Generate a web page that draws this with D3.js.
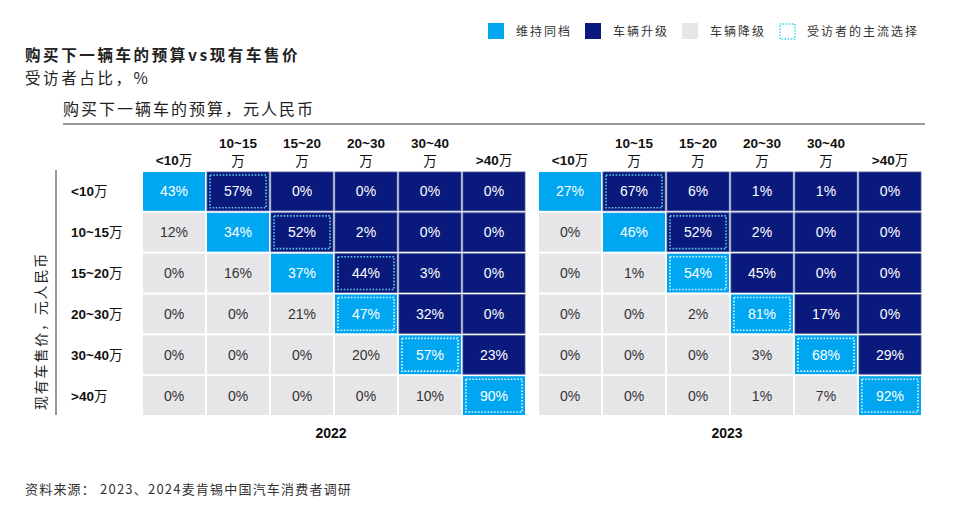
<!DOCTYPE html>
<html>
<head>
<meta charset="utf-8">
<script src="https://cdn.jsdelivr.net/npm/d3@7"></script>
<style>
  body { margin: 0; background: #fff; }
  text { font-family: "Liberation Sans", Arial, "Noto Sans CJK SC", sans-serif; }
  .cjk { font-family: "Noto Sans CJK SC", sans-serif; }
</style>
</head>
<body>
<svg id="chart" width="960" height="509"></svg>
<script>
// budget for next car (columns) vs price of current car (rows)
var budgetLabels = [["<10", "万"], ["10~15", "万"], ["15~20", "万"], ["20~30", "万"], ["30~40", "万"], [">40", "万"]];
var priceLabels = ["<10", "10~15", "15~20", "20~30", "30~40", ">40"];
var years = ["2022", "2023"];

var values2022 = [
  [43, 57, 0, 0, 0, 0],
  [12, 34, 52, 2, 0, 0],
  [0, 16, 37, 44, 3, 0],
  [0, 0, 21, 47, 32, 0],
  [0, 0, 0, 20, 57, 23],
  [0, 0, 0, 0, 10, 90]
];
var values2023 = [
  [27, 67, 6, 1, 1, 0],
  [0, 46, 52, 2, 0, 0],
  [0, 1, 54, 45, 0, 0],
  [0, 0, 2, 81, 17, 0],
  [0, 0, 0, 3, 68, 29],
  [0, 0, 0, 1, 7, 92]
];
// column index of the main choice in each row
var mainChoice2022 = [1, 2, 3, 3, 4, 5];
var mainChoice2023 = [1, 2, 2, 3, 4, 5];

var legendItems = ["维持同档", "车辆升级", "车辆降级", "受访者的主流选择"];

var colours = { same: "#00a7f0", up: "#0a1a7c", down: "#e6e6e8" };

var svg = d3.select("#chart");

// Titles
svg.append("text").attr("class", "cjk").attr("x", 25).attr("y", 61)
    .style("font-size", "15.5px").style("font-weight", "bold").style("letter-spacing", "2.6px")
    .attr("fill", "#222").text("购买下一辆车的预算vs现有车售价");
svg.append("text").attr("class", "cjk").attr("x", 25).attr("y", 84)
    .style("font-size", "15.5px").style("letter-spacing", "2.6px")
    .attr("fill", "#222").text("受访者占比，%");
svg.append("text").attr("class", "cjk").attr("x", 63).attr("y", 115)
    .style("font-size", "16px").style("letter-spacing", "2px")
    .attr("fill", "#222").text("购买下一辆车的预算，元人民币");
svg.append("line").attr("x1", 63).attr("x2", 925).attr("y1", 124).attr("y2", 124)
    .attr("stroke", "#777").attr("stroke-width", 1.5);

// Legend
var legendX = [488, 585, 682, 779];
var legendFill = [colours.same, colours.up, colours.down, "none"];
legendItems.forEach(function(name, i) {
  var g = svg.append("g").attr("transform", "translate(" + legendX[i] + ",23)");
  var r = g.append("rect").attr("width", 16).attr("height", 16).attr("fill", legendFill[i]);
  if (i == 3) {
    r.attr("x", 1).attr("y", 1).attr("width", 15).attr("height", 15)
     .attr("stroke", "#34d6e6").attr("stroke-width", 1.5).attr("stroke-dasharray", "1.5,1.5");
  }
  g.append("text").attr("class", "cjk").attr("x", 28).attr("y", 13)
    .style("font-size", "12px").style("letter-spacing", "2px")
    .attr("fill", "#333").text(name);
});

// Row axis
var y = d3.scaleBand().domain(d3.range(6)).range([172, 415]).paddingInner(0.05);

svg.append("line").attr("x1", 56).attr("x2", 56).attr("y1", 170).attr("y2", 415)
    .attr("stroke", "#555").attr("stroke-width", 1.2);
svg.append("text").attr("class", "cjk")
    .attr("transform", "translate(46,331) rotate(-90)")
    .attr("text-anchor", "middle")
    .style("font-size", "14px").style("letter-spacing", "1.8px")
    .attr("fill", "#222").text("现有车售价，元人民币");

var rowLabel = svg.selectAll(".rowlabel").data(priceLabels).enter().append("text")
    .attr("class", "rowlabel")
    .attr("x", 71)
    .attr("y", function(d, i) { return y(i) + y.bandwidth() / 2 + 5; })
    .style("font-size", "13.5px").style("font-weight", "bold")
    .attr("fill", "#111");
rowLabel.append("tspan").text(function(d) { return d; });
rowLabel.append("tspan").attr("class", "cjk").style("font-weight", "normal").text("万");

function drawGrid(values, mainChoice, x0, x1, year) {
  var x = d3.scaleBand().domain(d3.range(6)).range([x0, x1]).paddingInner(0.03);
  var g = svg.append("g");

  // column headers: first and last on one line, the rest on two
  budgetLabels.forEach(function(lines, j) {
    var cx = x(j) + x.bandwidth() / 2;
    var t = g.append("text").attr("text-anchor", "middle")
        .attr("x", cx)
        .style("font-size", "13.5px").style("font-weight", "bold").attr("fill", "#111");
    if (j == 0 || j == 5) {
      t.attr("y", 165);
      t.append("tspan").text(lines[0]);
      t.append("tspan").attr("class", "cjk").style("font-weight", "normal").text(lines[1]);
    } else {
      t.append("tspan").attr("x", cx).attr("y", 148).text(lines[0]);
      t.append("tspan").attr("class", "cjk").style("font-weight", "normal")
        .attr("x", cx).attr("y", 166).text(lines[1]);
    }
  });

  var cells = [];
  values.forEach(function(row, i) {
    row.forEach(function(v, j) {
      cells.push({ row: i, col: j, value: v, main: mainChoice[i] == j });
    });
  });

  function kind(d) {
    return d.col == d.row ? "same" : (d.col > d.row ? "up" : "down");
  }

  var cell = g.selectAll(".cell").data(cells).enter().append("g")
      .attr("class", "cell")
      .attr("transform", function(d) { return "translate(" + x(d.col) + "," + y(d.row) + ")"; });

  cell.append("rect")
      .attr("width", x.bandwidth())
      .attr("height", y.bandwidth())
      .attr("fill", function(d) { return colours[kind(d)]; })
      .attr("stroke", function(d) { return kind(d) == "up" ? "#4a5898" : "none"; })
      .attr("stroke-width", 0.8);

  cell.filter(function(d) { return d.main; }).append("rect")
      .attr("x", 3).attr("y", 3)
      .attr("width", x.bandwidth() - 6)
      .attr("height", y.bandwidth() - 6)
      .attr("fill", "none")
      .attr("stroke", function(d) { return kind(d) == "up" ? "#5cc8ec" : "#d8f2ff"; })
      .attr("stroke-width", 1.6)
      .attr("stroke-dasharray", "1.6,1.6");

  cell.append("text")
      .attr("x", x.bandwidth() / 2)
      .attr("y", y.bandwidth() / 2 + 5)
      .attr("text-anchor", "middle")
      .style("font-size", "14px")
      .attr("fill", function(d) { return kind(d) == "down" ? "#333" : "#fff"; })
      .text(function(d) { return d.value + "%"; });

  g.append("text").attr("text-anchor", "middle")
      .attr("x", (x0 + x1) / 2 - 3).attr("y", 438)
      .style("font-size", "14px").style("font-weight", "bold").attr("fill", "#111")
      .text(year);
}

drawGrid(values2022, mainChoice2022, 143, 525, years[0]);
drawGrid(values2023, mainChoice2023, 539, 921, years[1]);

// Source
svg.append("text").attr("class", "cjk").attr("x", 25).attr("y", 494)
    .style("font-size", "13px").style("letter-spacing", "1.2px")
    .attr("fill", "#333").text("资料来源： 2023、2024麦肯锡中国汽车消费者调研");
</script>
</body>
</html>
